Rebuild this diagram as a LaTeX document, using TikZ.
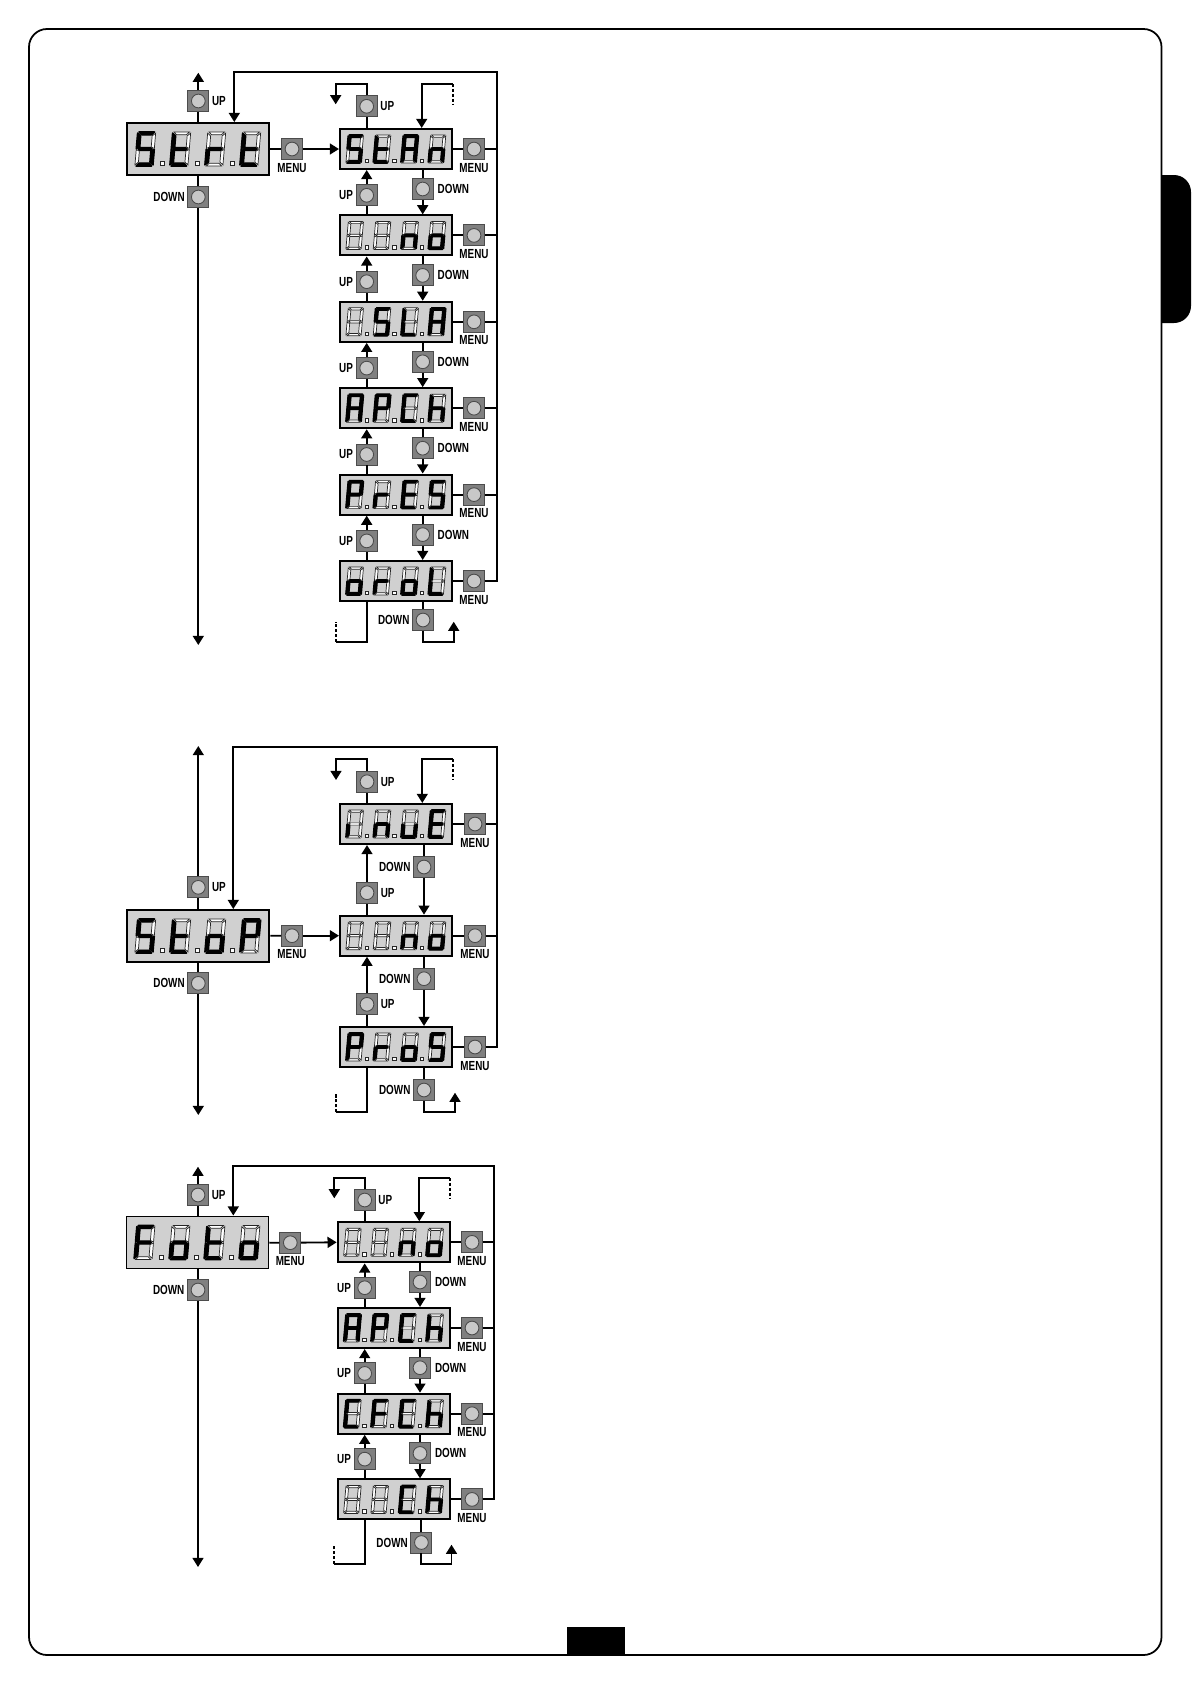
\documentclass[tikz,border=0pt]{standalone}
\usepackage{fontspec}
\setmainfont[FakeStretch=.75]{Liberation Sans}
\usetikzlibrary{arrows.meta,positioning}
\definecolor{dispgray}{HTML}{D0D0D0}
\definecolor{btngray}{HTML}{808080}
\definecolor{knobgray}{HTML}{C8C8C8}
% which segments are lit for each letter, z is nothing
\def\glyphS{a,c,d,f,g}
\def\glypht{d,e,f,g}
\def\glyphr{e,g}
\def\glyphA{a,b,c,e,f,g}
\def\glyphn{c,e,g}
\def\glypho{c,d,e,g}
\def\glyphL{d,e,f}
\def\glyphP{a,b,e,f,g}
\def\glyphC{a,d,e,f}
\def\glyphh{c,e,f,g}
\def\glyphE{a,d,e,f,g}
\def\glyphi{e}
\def\glyphu{c,d,e}
\def\glyphF{a,e,f,g}
\def\glyphx{z}
\tikzset{
	sega/.style={insert path={(-.85,-1)--(.85,-1)--(.55,-.84)--(-.55,-.84)--cycle}},
	segd/.style={insert path={(-.85,1)--(.85,1)--(.55,.84)--(-.55,.84)--cycle}},
	segg/.style={insert path={(-.75,0)--(-.55,-.08)--(.55,-.08)--(.75,0)--(.55,.08)--(-.55,.08)--cycle}},
	segf/.style={insert path={(-1,-.93)--(-.64,-.77)--(-.64,-.12)--(-1,-.03)--cycle}},
	segb/.style={insert path={(1,-.93)--(.64,-.77)--(.64,-.12)--(1,-.03)--cycle}},
	sege/.style={insert path={(-1,.93)--(-.64,.77)--(-.64,.12)--(-1,.03)--cycle}},
	segc/.style={insert path={(1,.93)--(.64,.77)--(.64,.12)--(1,.03)--cycle}},
	segz/.style={},
	segoff/.style={draw=black!85,fill=white,line width=.4pt},
	segon/.style={draw=black,fill=black,line width=.9pt,line join=round},
	digit/.pic={
		\foreach \segm in {a,b,c,d,e,f,g}\path[segoff,seg\segm];
		\edef\seglist{\csname glyph#1\endcsname}
		\foreach \segm in \seglist\path[segon,seg\segm];
	},
	bigdigit/.style={xscale=9,yscale=17,xslant=.16},
	smalldigit/.style={xscale=7.6,yscale=14,xslant=.16},
	bigdisp/.style={draw,line width=1.1pt,fill=dispgray,minimum width=2.84cm,minimum height=1.04cm,inner sep=0},
	smalldisp/.style={draw,line width=1.2pt,fill=dispgray,minimum width=2.24cm,minimum height=.8cm,inner sep=0},
	button/.style={draw=black!70,fill=btngray,line width=.5pt,minimum size=.42cm,inner sep=0,
		path picture={\draw[fill=knobgray,line width=.5pt](path picture bounding box.center)circle(3.9pt);}},
	tag/.style={font=\bfseries\fontsize{7.5}{8}\selectfont,inner sep=0},
	brk/.style={dash pattern=on 1.8pt off 1pt}
}
\newcommand{\bigread}[6]{
	\node[bigdisp](#1) at (#2){};
	\foreach \g/\dx in {#3/-53,#4/-18,#5/17,#6/52}\pic[bigdigit] at ([shift={(\dx,0)}]#1.center){digit=\g};
	\foreach \dx in {-36.3,-1.3,33.7}\draw[segoff]([shift={(\dx,14.7)}]#1.center)+(-2,-2)rectangle+(2,2);
}
\newcommand{\smallread}[6]{
	\node[smalldisp](#1) at (#2){};
	\foreach \g/\dx in {#3/-41.3,#4/-14,#5/13.7,#6/41}\pic[smalldigit] at ([shift={(\dx,0)}]#1.center){digit=\g};
	\foreach \dx in {-29.3,-1.7,26}\draw[segoff]([shift={(\dx,12)}]#1.center)+(-1.7,-1.7)rectangle+(1.7,1.7);
}
\newcommand{\btn}[4]{
	\node[button](#1) at (#2){};
	\node[tag,#3=#4 of #1](#1t){\btntext};
}
\begin{document}
\begin{tikzpicture}[x=.02cm,y=-.02cm,line width=1.05pt,line join=miter,>={Triangle[length=5.2pt,width=6.2pt]}]
	\useasboundingbox(0,0)rectangle(1191,1684);
	% page
	\draw[line width=1pt,rounded corners=.36cm](29,29)rectangle(1161.5,1655);
	\begin{scope}
		\clip(1161,0)rectangle(1191,400);
		\fill[rounded corners=.34cm](1130,175)rectangle(1191,323);
	\end{scope}
	\fill(567,1627)rectangle(624.5,1655);

	% first block
	\def\btntext{UP}\btn{strtup}{198.3,101}{right}{1.1pt}
	\def\btntext{DOWN}\btn{strtdown}{198.3,197}{left}{1pt}
	\def\btntext{MENU}\btn{strtmenu}{292,149}{below}{1.2pt}
	\bigread{strt}{198.3,149}{S}{t}{r}{t}
	\coordinate(strthi) at (198.3,72.7);
	\coordinate(strtlo) at (198.3,645);
	\draw(strt)--(strtup);
	\draw[->](strtup)--(strthi);
	\draw(strt)--(strtdown);
	\draw[->](strtdown)--(strtlo);
	\foreach \n/\y/\ga/\gb/\gc/\gd in {a1/149/S/t/A/n,a2/235.4/x/x/n/o,a3/321.8/x/S/L/A,a4/408.2/A/P/C/h,a5/494.6/P/r/E/S,a6/581/o/r/o/L}{
		\smallread{\n}{396,\y}{\ga}{\gb}{\gc}{\gd}
		\def\btntext{MENU}\btn{\n m}{474,\y}{below}{1.2pt}
		\draw(\n)--(\n m)--+(22.7,0);
	}
	\foreach \n/\b/\y in {a1/a2/149,a2/a3/235.4,a3/a4/321.8,a4/a5/408.2,a5/a6/494.6}{
		\def\btntext{UP}\btn{\n u}{366.7,\y+46.3}{left}{1.1pt}
		\def\btntext{DOWN}\btn{\n d}{422.7,\y+40}{right}{1.8pt}
		\draw(\n u|-\b.north)--(\n u);
		\draw[->](\n u)--(\n u|-\n.south);
		\draw(\n d|-\n.south)--(\n d);
		\draw[->](\n d)--(\n d|-\b.north);
	}
	\draw(strt)--(strtmenu);
	\draw[->](strtmenu)--(a1.west);
	\coordinate(strtloop) at (496.7,72);
	\coordinate(strtin) at (234.3,72);
	\draw[->](a6m)-|(strtloop)--(strtin)--(strtin|-strt.north);

	% second block
	\def\btntext{UP}\btn{stopup}{198.3,887.3}{right}{1.1pt}
	\def\btntext{DOWN}\btn{stopdown}{198.3,983.3}{left}{1pt}
	\def\btntext{MENU}\btn{stopmenu}{292,935.7}{below}{1.2pt}
	\bigread{stop}{198.3,936}{S}{t}{o}{P}
	\coordinate(stophi) at (198.3,746);
	\coordinate(stoplo) at (198.3,1115);
	\draw(stop)--(stopup);
	\draw[->](stopup)--(stophi);
	\draw(stop)--(stopdown);
	\draw[->](stopdown)--(stoplo);
	\foreach \n/\y/\ga/\gb/\gc/\gd in {b1/824/i/n/u/E,b2/935.7/x/x/n/o,b3/1047/P/r/o/S}{
		\smallread{\n}{396,\y}{\ga}{\gb}{\gc}{\gd}
		\def\btntext{MENU}\btn{\n m}{475,\y}{below}{1.2pt}
		\draw(\n)--(\n m)--+(21.7,0);
	}
	\foreach \n/\b/\yu/\yd in {b1/b2/892.7/867,b2/b3/1004.3/978.7}{
		\def\btntext{UP}\btn{\n u}{367,\yu}{right}{1.1pt}
		\def\btntext{DOWN}\btn{\n d}{424,\yd}{left}{1pt}
		\draw(\n u|-\b.north)--(\n u);
		\draw[->](\n u)--(\n u|-\n.south);
		\draw(\n d|-\n.south)--(\n d);
		\draw[->](\n d)--(\n d|-\b.north);
	}
	\draw(stop)--(stopmenu);
	\draw[->](stopmenu)--(b2.west);
	\coordinate(stoploop) at (496.7,746.7);
	\coordinate(stopin) at (233.3,746.7);
	\draw[->](b3m)-|(stoploop)--(stopin)--(stopin|-stop.north);

	% third block
	\def\btntext{UP}\btn{fotoup}{198,1195}{right}{1.1pt}
	\def\btntext{DOWN}\btn{fotodown}{198,1290}{left}{1pt}
	\def\btntext{MENU}\btn{fotomenu}{290.3,1242.7}{below}{1.2pt}
	\bigread{foto}{197.5,1242.5}{F}{o}{t}{o}
	\coordinate(fotohi) at (198,1166.7);
	\coordinate(fotolo) at (198,1567);
	\draw(foto.north-|fotoup)--(fotoup);
	\draw[->](fotoup)--(fotohi);
	\draw(foto.south-|fotodown)--(fotodown);
	\draw[->](fotodown)--(fotolo);
	\foreach \n/\y/\ga/\gb/\gc/\gd in {c1/1242.3/x/x/n/o,c2/1328/A/P/C/h,c3/1413.7/C/F/C/h,c4/1499.4/x/x/C/h}{
		\smallread{\n}{393.7,\y}{\ga}{\gb}{\gc}{\gd}
		\def\btntext{MENU}\btn{\n m}{472,\y}{below}{1.2pt}
		\draw(\n)--(\n m)--+(22.3,0);
	}
	\foreach \n/\b/\y in {c1/c2/1242.3,c2/c3/1328,c3/c4/1413.7}{
		\def\btntext{UP}\btn{\n u}{364.7,\y+45.4}{left}{1.1pt}
		\def\btntext{DOWN}\btn{\n d}{420,\y+39.7}{right}{1.8pt}
		\draw(\n u|-\b.north)--(\n u);
		\draw[->](\n u)--(\n u|-\n.south);
		\draw(\n d|-\n.south)--(\n d);
		\draw[->](\n d)--(\n d|-\b.north);
	}
	\draw(foto)--(fotomenu);
	\draw[->](fotomenu)--(c1.west);
	\coordinate(fotoloop) at (494.3,1165.7);
	\coordinate(fotoin) at (233.3,1165.7);
	\draw[->](c4m)-|(fotoloop)--(fotoin)--(fotoin|-foto.north);

	% ends of the columns
	\foreach \n/\ux/\ub/\lx/\cy/\ty/\ix/\rx in {a1/366.7/106.3/335.7/84/104.3/421.7/452.7,b1/367/781.7/336/759.3/780/422.3/453.3,c1/364.7/1200/334.3/1178/1198.3/419.3/450}{
		\def\btntext{UP}\btn{\n t}{\ux,\ub}{right}{1.1pt}
		\coordinate(\n b) at (\lx,\cy);
		\coordinate(\n e) at (\lx,\ty);
		\coordinate(\n i) at (\ix,\cy);
		\coordinate(\n r) at (\rx,\cy);
		\coordinate(\n s) at (\rx,\ty);
		\draw(\n t|-\n.north)--(\n t);
		\draw[->](\n t)|-(\n b)--(\n e);
		\draw[->](\n r)--(\n i)--(\n i|-\n.north);
		\draw[brk](\n r)--(\n s);
	}
	\foreach \n/\ux/\dx/\db/\lx/\cy/\ty/\rx in {a6/366.7/423/620/335.7/641.7/621.7/453.7,b3/367/424/1090/336/1112.3/1092.7/455,c4/364.7/421.4/1542.5/334.3/1564/1544.7/451.5}{
		\def\btntext{DOWN}\btn{\n d}{\dx,\db}{left}{1pt}
		\coordinate(\n f) at (\ux,\cy);
		\coordinate(\n l) at (\lx,\cy);
		\coordinate(\n h) at (\lx,\ty);
		\coordinate(\n c) at (\dx,\cy);
		\coordinate(\n j) at (\rx,\cy);
		\coordinate(\n k) at (\rx,\ty);
		\draw(\n f|-\n.south)--(\n f)--(\n l);
		\draw[brk](\n l)--(\n h);
		\draw(\n d|-\n.south)--(\n d);
		\draw[->](\n d)--(\n c)--(\n j)--(\n k);
	}
\end{tikzpicture}
\end{document}
